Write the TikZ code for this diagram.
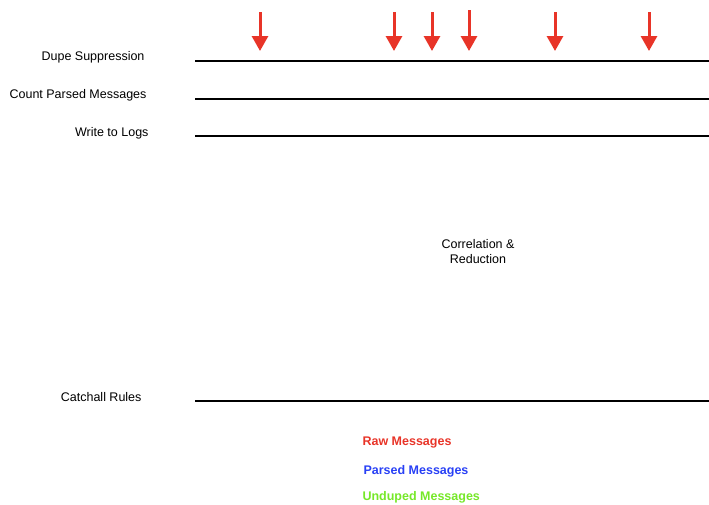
\documentclass[tikz,border=0pt]{standalone}
\usepackage{fontspec}
\setmainfont{Liberation Sans}
\usetikzlibrary{arrows.meta}
\definecolor{rawred}{RGB}{232,52,40}
\definecolor{parsedblue}{RGB}{40,64,245}
\definecolor{undupedgreen}{RGB}{118,232,40}
\tikzset{
  stage/.style={anchor=east,font=\fontsize{12.5}{15}\selectfont},
  legend/.style={anchor=west,font=\fontsize{12.5}{15}\selectfont\bfseries},
  bus/.style={line width=2pt},
  raw/.style={rawred,line width=3pt,-{Triangle[width=16pt,length=15pt]}}
}
\begin{document}
\begin{tikzpicture}[x=1pt,y=-1pt]
\useasboundingbox (0,0) rectangle (709,504);
\node (dupe)  at (148, 57) [stage] {Dupe Suppression};
\node (count) at (150, 95) [stage] {Count Parsed Messages};
\node (logs)  at (152,133) [stage] {Write to Logs};
\node (catch) at (145,397) [stage] {Catchall Rules};
\node (corr)  at (478,252) [align=center,font=\fontsize{12.5}{15}\selectfont] {Correlation \&\\Reduction};
\node (rawmsg)     at (359,443) [legend,text=rawred] {Raw Messages};
\node (parsedmsg)  at (360,471) [legend,text=parsedblue] {Parsed Messages};
\node (undupedmsg) at (359,497) [legend,text=undupedgreen] {Unduped Messages};
% stage lines
\coordinate (d1) at (195, 61); \coordinate (d2) at (709, 61);
\coordinate (c1) at (195, 99); \coordinate (c2) at (709, 99);
\coordinate (l1) at (195,136); \coordinate (l2) at (709,136);
\coordinate (r1) at (195,401); \coordinate (r2) at (709,401);
\draw [bus] (d1) -- (d2);
\draw [bus] (c1) -- (c2);
\draw [bus] (l1) -- (l2);
\draw [bus] (r1) -- (r2);
% incoming raw messages
\foreach \x/\t in {260/12,394/12,432/12,469/10,555/12,649/12} {
  \coordinate (a\x) at (\x,\t);
  \coordinate (b\x) at (\x,51);
  \draw [raw] (a\x) -- (b\x);
}
\end{tikzpicture}
\end{document}
